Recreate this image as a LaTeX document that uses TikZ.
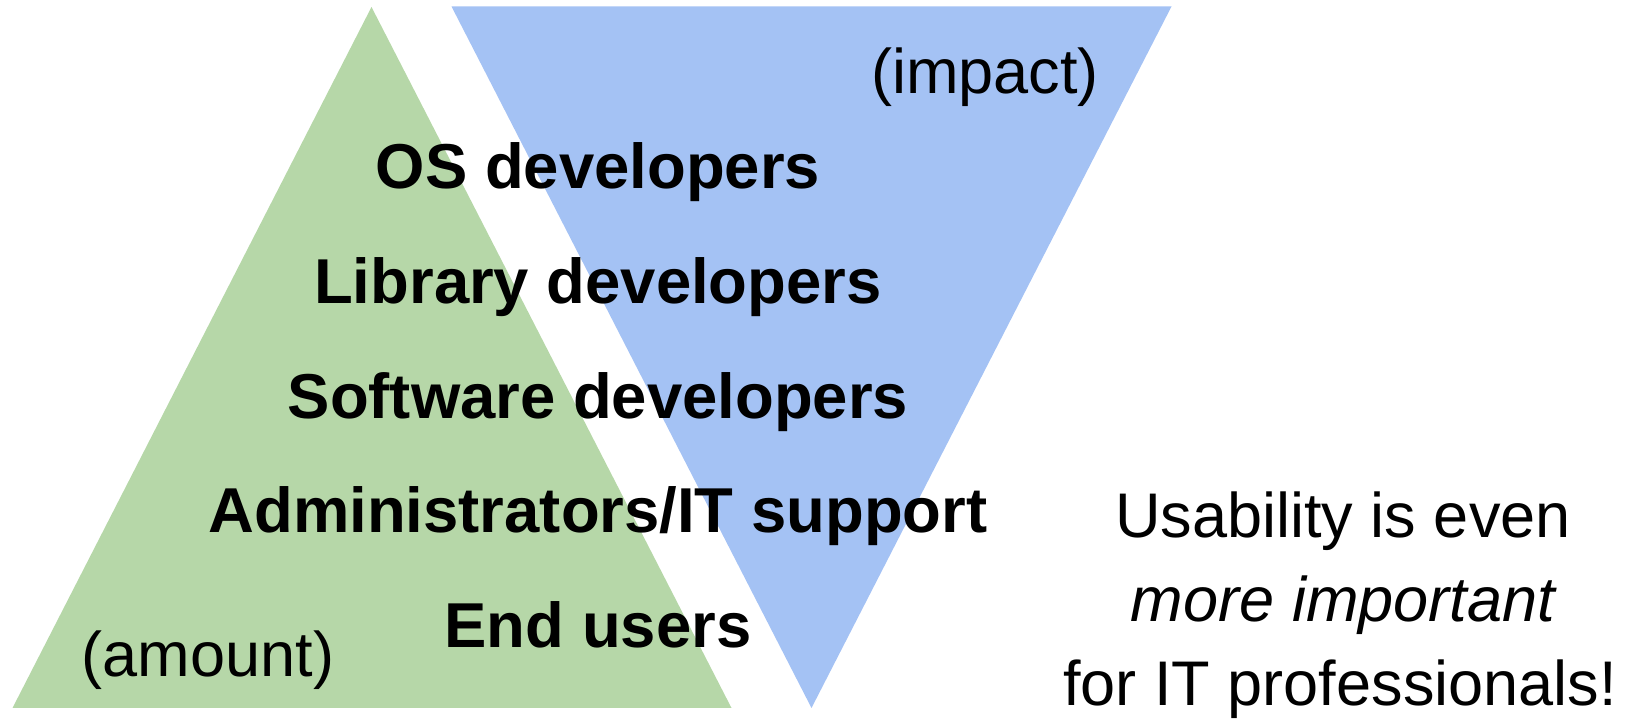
\documentclass[tikz,border=0pt]{standalone}
\usepackage{fontspec}
\setmainfont{Liberation Sans}
\definecolor{amountgreen}{HTML}{B6D7A8}
\definecolor{impactblue}{HTML}{A4C2F4}
\begin{document}
\begin{tikzpicture}[x=0.02cm, y=-0.02cm,
  grp/.style={inner sep=0, anchor=base, font=\fontsize{36.1}{43}\selectfont\bfseries},
  note/.style={inner sep=0, anchor=base, font=\fontsize{35.9}{43}\selectfont}]
\useasboundingbox (0,0) rectangle (1637,722);
\fill[amountgreen] (371.5,7) -- (731.5,708) -- (12.5,708) -- cycle;
\fill[impactblue] (451.5,6.5) -- (1171.5,6.5) -- (811.5,708) -- cycle;
\node[note] (impact) at (985,94) {(impact)};
\node[note] (amount) at (208,677) {(amount)};
\node[grp] (os) at (598,188.5) {OS developers};
\node[grp] (lib) at (598,303.5) {Library developers};
\node[grp] (sw) at (598,418.3) {Software developers};
\node[grp] (admin) at (598,533) {Administrators/IT support};
\node[grp] (end) at (598,648) {End users};
\node[note] (msga) at (1343,538) {Usability is even};
\node[note] (msgb) at (1343,621.5) {\itshape more important};
\node[note] (msgc) at (1340,705) {for IT professionals!};
\end{tikzpicture}
\end{document}
